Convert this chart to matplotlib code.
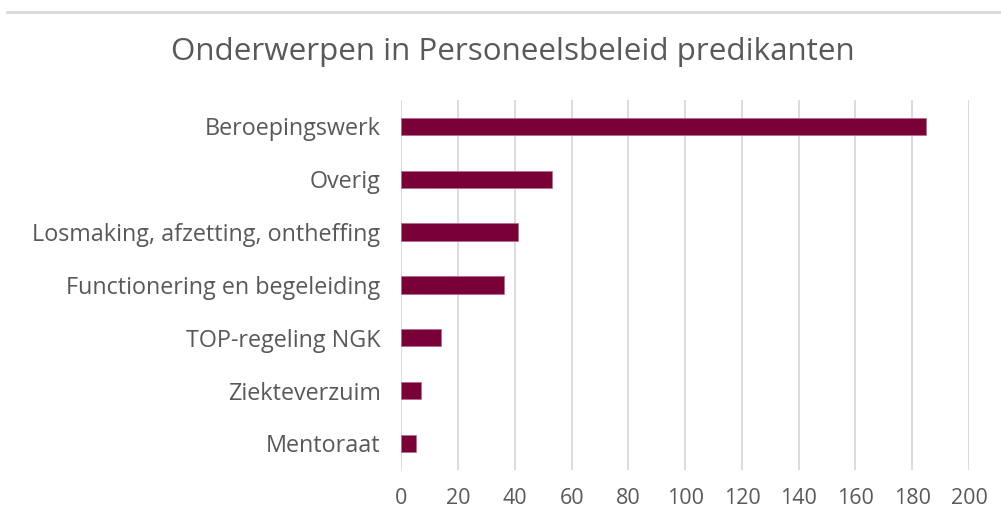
import matplotlib.pyplot as plt
from matplotlib.lines import Line2D

categories = [
    "Beroepingswerk",
    "Overig",
    "Losmaking, afzetting, ontheffing",
    "Functionering en begeleiding",
    "TOP-regeling NGK",
    "Ziekteverzuim",
    "Mentoraat",
]
values = [185, 53, 41, 36, 14, 7, 5]
xticks = list(range(0, 201, 20))

bar_color = "#7a0038"
text_color = "#595959"
grid_color = "#d9d9d9"

plt.rcParams["font.family"] = ["Open Sans", "DejaVu Sans"]

fig = plt.figure(figsize=(10.01, 5.18), dpi=100)
ax = fig.add_axes([0.401, 0.093, 0.567, 0.714])

pos = list(range(len(categories)))
ax.barh(pos, values, height=0.33, color=bar_color, edgecolor="#b07090",
        linewidth=0.6, zorder=3)
ax.set_yticks(pos)
ax.set_yticklabels(categories)
ax.set_ylim(len(categories) - 0.5, -0.5)

ax.set_xlim(0, 200)
ax.set_xticks(xticks)
ax.grid(axis="x", color=grid_color, linewidth=1.3, zorder=0)
for s in ax.spines.values():
    s.set_visible(False)
ax.tick_params(axis="x", length=0, pad=13, labelsize=15.5, labelcolor=text_color)
ax.tick_params(axis="y", length=0, pad=15, labelsize=16.8, labelcolor=text_color)

fig.text(0.512, 0.9, "Onderwerpen in Personeelsbeleid predikanten",
         ha="center", va="center", fontsize=22.6, color=text_color)

# dunne grijze lijn bovenaan
fig.add_artist(Line2D([0.007, 1.0], [0.976, 0.976], color=grid_color,
                      linewidth=2, transform=fig.transFigure))

fig.savefig("out.png", dpi=100, facecolor="white")
